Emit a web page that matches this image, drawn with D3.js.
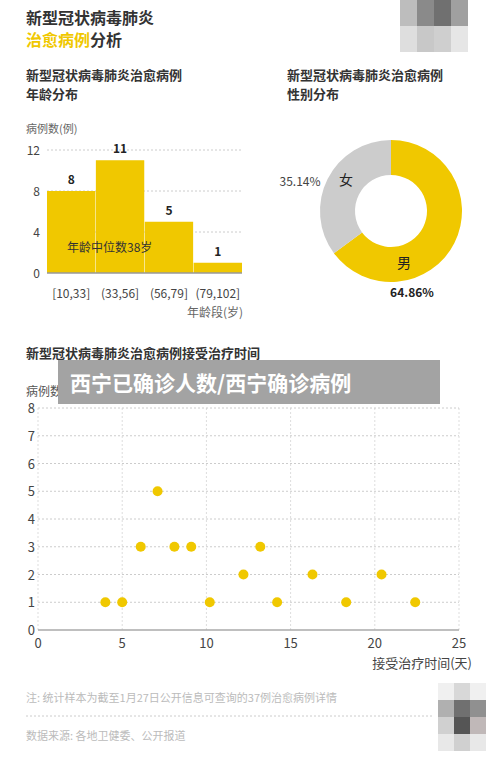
<!DOCTYPE html>
<html><head><meta charset="utf-8">
<script src="https://cdn.jsdelivr.net/npm/d3@7"></script>
<style>body{margin:0;background:#fff;font-family:"Noto Sans CJK SC","Noto Sans",sans-serif}</style>
</head><body>
<script>
// 数据
var ageGroups = ["[10,33]", "(33,56]", "(56,79]", "(79,102]"];
var ageCounts = [8, 11, 5, 1];
var ageTicks = [0, 4, 8, 12];
var genders = ["男", "女"];
var genderShares = [64.86, 35.14];
var days = [4, 5, 6.1, 7.1, 8.1, 9.1, 10.2, 12.2, 13.2, 14.2, 16.3, 18.3, 20.4, 22.4];
var cases = [1, 1, 3, 5, 3, 3, 1, 2, 3, 1, 2, 1, 2, 1];
var yellow = "#f0c800", grey = "#cccccc";

var svg = d3.select("body").append("svg").attr("width", 500).attr("height", 764);

var text = function(x, y, s, size, fill, weight, anchor) {
  return svg.append("text").attr("x", x).attr("y", y).text(s)
    .style("font-size", size + "px").style("fill", fill)
    .style("font-weight", weight || "normal").attr("text-anchor", anchor || "start");
};

// 标题
text(26, 24, "新型冠状病毒肺炎", 16, "#333", "bold");
var t2 = text(26, 46, "", 16, "#333", "bold");
t2.append("tspan").text("治愈病例").style("fill", yellow);
t2.append("tspan").text("分析");
// 打码块
var blur = [["#bdbdbd","#8a8a8a","#707070","#a0a0a0"],["#dedede","#c8c8c8","#cfcfcf","#e6e6e6"]];
blur.forEach(function(row, i) { row.forEach(function(c, j) {
  svg.append("rect").attr("x", 400 + j * 17).attr("y", i * 26).attr("width", 17).attr("height", 26).style("fill", c);
});});
var blur2 = [["#f0f0f0","#d8d8d8","#f0f0f0"],["#b0b0b0","#707070","#909090"],["#d0d0d0","#555","#c0b8b8"],["#e8e8e8","#d0d0d0","#e8e8e8"]];
blur2.forEach(function(row, i) { row.forEach(function(c, j) {
  svg.append("rect").attr("x", 438 + j * 16).attr("y", 683 + i * 17).attr("width", 16).attr("height", 17).style("fill", c);
});});

// 年龄分布
text(26, 80, "新型冠状病毒肺炎治愈病例", 13, "#333", "bold");
text(26, 99, "年龄分布", 13, "#333", "bold");
text(26, 133, "病例数(例)", 11, "#666");
var bx = d3.scaleBand().domain(ageGroups).range([47, 242]).paddingInner(0.01);
var by = d3.scaleLinear().domain([0, 12]).range([273, 150]);
ageTicks.forEach(function(t) {
  if (t > 0) svg.append("line").attr("x1", 47).attr("x2", 242).attr("y1", by(t)).attr("y2", by(t))
    .style("stroke", "#ccc").style("stroke-dasharray", "2,2");
  text(40, by(t) + 5, t, 12, "#444", "normal", "end");
});
svg.selectAll(".bar").data(ageCounts).enter().append("rect")
  .attr("x", function(d, i) { return bx(ageGroups[i]); })
  .attr("y", function(d) { return by(d); })
  .attr("width", bx.bandwidth())
  .attr("height", function(d) { return 273 - by(d); })
  .style("fill", yellow);
ageCounts.forEach(function(d, i) {
  text(bx(ageGroups[i]) + bx.bandwidth() / 2, by(d) - 7, d, 12, "#222", "bold", "middle");
  text(bx(ageGroups[i]) + bx.bandwidth() / 2, 298, ageGroups[i], 12, "#444", "normal", "middle");
});
svg.append("line").attr("x1", 47).attr("x2", 242).attr("y1", 273).attr("y2", 273).style("stroke", "#999").style("stroke-width", 1.5);
text(67, 252, "年龄中位数38岁", 12, "#333");
text(243, 317, "年龄段(岁)", 12, "#666", "normal", "end");

// 性别分布
text(287, 80, "新型冠状病毒肺炎治愈病例", 13, "#333", "bold");
text(287, 99, "性别分布", 13, "#333", "bold");
var pie = d3.pie().sort(null)(genderShares);
var arc = d3.arc().innerRadius(36).outerRadius(71);
var g = svg.append("g").attr("transform", "translate(391,211)");
g.selectAll("path").data(pie).enter().append("path").attr("d", arc)
  .style("fill", function(d, i) { return i === 0 ? yellow : grey; });
text(404, 268, genders[0], 14, "#222", "normal", "middle");
text(346, 185, genders[1], 14, "#222", "normal", "middle");
text(412, 297, genderShares[0].toFixed(2) + "%", 12, "#222", "bold", "middle");
text(300, 186, genderShares[1].toFixed(2) + "%", 12, "#444", "normal", "middle");

// 接受治疗时间
text(26, 358, "新型冠状病毒肺炎治愈病例接受治疗时间", 13, "#333", "bold");
text(26, 396, "病例数(例)", 12, "#555");
var sx = d3.scaleLinear().domain([0, 25]).range([38, 459]);
var sy = d3.scaleLinear().domain([0, 8]).range([630, 408]);
d3.range(0, 26, 5).forEach(function(t) {
  svg.append("line").attr("x1", sx(t)).attr("x2", sx(t)).attr("y1", 408).attr("y2", 630).style("stroke", "#ddd").style("stroke-dasharray", "2,2");
  text(sx(t), 648, t, 13, "#444", "normal", "middle");
});
d3.range(0, 9).forEach(function(t) {
  if (t > 0) svg.append("line").attr("x1", 38).attr("x2", 459).attr("y1", sy(t)).attr("y2", sy(t)).style("stroke", "#ccc").style("stroke-dasharray", "2,2");
  text(35, sy(t) + 5, t, 13, "#444", "normal", "end");
});
svg.append("line").attr("x1", 38).attr("x2", 459).attr("y1", 630).attr("y2", 630).style("stroke", "#aaa").style("stroke-width", 1.5);
svg.selectAll(".dot").data(days).enter().append("circle")
  .attr("cx", function(d) { return sx(d); })
  .attr("cy", function(d, i) { return sy(cases[i]); })
  .attr("r", 5).style("fill", yellow);
text(472, 668, "接受治疗时间(天)", 13, "#444", "normal", "end");

// 注释
text(26, 702, "注: 统计样本为截至1月27日公开信息可查询的37例治愈病例详情", 11, "#bbb");
svg.append("line").attr("x1", 26).attr("x2", 432).attr("y1", 716).attr("y2", 716).style("stroke", "#ccc").style("stroke-dasharray", "2,2");
text(26, 740, "数据来源: 各地卫健委、公开报道", 11, "#bbb");

// 遮挡横幅
svg.append("rect").attr("x", 58).attr("y", 360).attr("width", 382).attr("height", 44).style("fill", "#a3a3a3");
text(70, 391, "西宁已确诊人数/西宁确诊病例", 21, "#fff", "bold");
</script>
</body></html>
